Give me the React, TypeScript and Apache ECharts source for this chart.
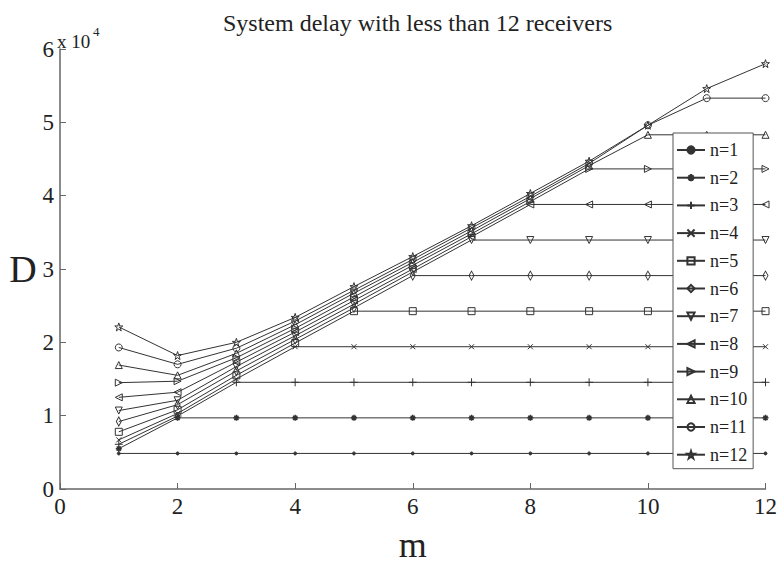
import React, { useEffect, useRef } from 'react';
import * as echarts from 'echarts';

const mValues = [1, 2, 3, 4, 5, 6, 7, 8, 9, 10, 11, 12];
const seriesNames = ['n=1', 'n=2', 'n=3', 'n=4', 'n=5', 'n=6', 'n=7', 'n=8', 'n=9', 'n=10', 'n=11', 'n=12'];
const xTicks = [0, 2, 4, 6, 8, 10, 12];

const n1 = [4850, 4850, 4850, 4850, 4850, 4850, 4850, 4850, 4850, 4850, 4850, 4850];
const n2 = [5500, 9700, 9700, 9700, 9700, 9700, 9700, 9700, 9700, 9700, 9700, 9700];
const n3 = [6100, 9950, 14550, 14550, 14550, 14550, 14550, 14550, 14550, 14550, 14550, 14550];
const n4 = [6700, 10300, 15000, 19400, 19400, 19400, 19400, 19400, 19400, 19400, 19400, 19400];
const n5 = [7800, 10800, 15500, 19900, 24250, 24250, 24250, 24250, 24250, 24250, 24250, 24250];
const n6 = [9200, 11500, 16100, 20400, 24700, 29100, 29100, 29100, 29100, 29100, 29100, 29100];
const n7 = [10700, 12100, 16700, 20900, 25200, 29600, 33950, 33950, 33950, 33950, 33950, 33950];
const n8 = [12500, 13200, 17300, 21400, 25700, 30000, 34400, 38800, 38800, 38800, 38800, 38800];
const n9 = [14500, 14700, 17900, 21900, 26200, 30500, 34800, 39200, 43650, 43650, 43650, 43650];
const n10 = [16900, 15500, 18500, 22400, 26700, 30900, 35200, 39600, 44100, 48300, 48300, 48300];
const n11 = [19300, 17000, 19200, 22900, 27100, 31300, 35600, 39900, 44400, 49600, 53300, 53300];
const n12 = [22100, 18200, 20000, 23400, 27600, 31700, 35900, 40300, 44700, 49600, 54600, 58000];

const allSeries = [n1, n2, n3, n4, n5, n6, n7, n8, n9, n10, n11, n12];

const INK = '#333';
const FONT = '"Liberation Serif", "Times New Roman", serif';

const markerDefs: any[] = [
  { symbol: 'circle', size: 3, filled: true },
  { symbol: 'path://M5,0L5,10M0,5L10,5M1.5,1.5L8.5,8.5M1.5,8.5L8.5,1.5', size: 6, width: 1.5 },
  { symbol: 'path://M5,0L5,10M0,5L10,5', size: 8 },
  { symbol: 'path://M0,0L10,10M0,10L10,0', size: 5 },
  { symbol: 'rect', size: 7 },
  { symbol: 'diamond', size: [5, 9] },
  { symbol: 'triangle', size: 7, rotate: 180 },
  { symbol: 'triangle', size: 7, rotate: 90 },
  { symbol: 'triangle', size: 7, rotate: -90 },
  { symbol: 'triangle', size: 7 },
  { symbol: 'circle', size: 7 },
  { symbol: 'path://M5,0L6.2,3.6L10,3.6L6.9,5.9L8.1,9.5L5,7.3L1.9,9.5L3.1,5.9L0,3.6L3.8,3.6Z', size: 8 },
];

export default function App() {
  const ref = useRef<HTMLDivElement>(null);

  useEffect(() => {
    const chart = echarts.init(ref.current!, null, { renderer: 'svg' });

    const series = allSeries.map((vals, i) => {
      const mk = markerDefs[i];
      return {
        name: seriesNames[i],
        type: 'line',
        data: vals.map((v, j) => [mValues[j], v]),
        symbol: mk.symbol,
        symbolSize: mk.size,
        symbolRotate: mk.rotate || 0,
        showAllSymbol: true,
        lineStyle: { color: INK, width: 1 },
        itemStyle: {
          color: mk.filled ? INK : 'rgba(0,0,0,0)',
          borderColor: INK,
          borderWidth: mk.width || 1,
        },
        emphasis: { disabled: true },
        z: 2,
      };
    });

    const option: any = {
      animation: false,
      backgroundColor: '#fff',
      color: [INK],
      title: {
        text: 'System delay with less than 12 receivers',
        left: 218,
        top: 6,
        textStyle: { fontFamily: FONT, fontSize: 24, fontWeight: 'normal', color: '#222' },
      },
      grid: { left: 60, right: 10, top: 49, bottom: 70, containLabel: false },
      legend: {
        orient: 'vertical',
        left: 673,
        top: 133,
        data: seriesNames,
        backgroundColor: '#fff',
        borderColor: '#555',
        borderWidth: 1,
        borderRadius: 0,
        padding: [8, 6, 5, 3],
        itemWidth: 28,
        itemHeight: 9,
        itemGap: 9.7,
        textStyle: { fontFamily: FONT, fontSize: 18, color: '#222', lineHeight: 18 },
        selectedMode: false,
      },
      xAxis: {
        type: 'value',
        min: xTicks[0],
        max: xTicks[xTicks.length - 1],
        interval: 2,
        name: 'm',
        nameLocation: 'middle',
        nameGap: 38,
        nameTextStyle: { fontFamily: FONT, fontSize: 36, color: '#222' },
        axisLine: { show: true, lineStyle: { color: '#666', width: 1.5 } },
        axisTick: { show: true, inside: true, length: 6, lineStyle: { color: '#666' } },
        axisLabel: { fontFamily: FONT, fontSize: 23, color: '#222', margin: 6 },
        splitLine: { show: false },
      },
      yAxis: {
        type: 'value',
        min: 0,
        max: 60000,
        interval: 10000,
        name: 'D',
        nameLocation: 'middle',
        nameRotate: 0,
        nameGap: 23,
        nameTextStyle: { fontFamily: FONT, fontSize: 38, color: '#222' },
        axisLine: { show: true, lineStyle: { color: '#666', width: 1.5 } },
        axisTick: { show: true, inside: true, length: 6, lineStyle: { color: '#666' } },
        axisLabel: {
          fontFamily: FONT,
          fontSize: 23,
          color: '#222',
          margin: 6,
          formatter: (v: number) => String(v / 10000),
        },
        splitLine: { show: false },
      },
      graphic: [
        {
          type: 'text',
          left: 57,
          top: 32,
          style: { text: 'x 10', fontFamily: FONT, fontSize: 19, fill: '#222' },
        },
        {
          type: 'text',
          left: 93,
          top: 25,
          style: { text: '4', fontFamily: FONT, fontSize: 13, fill: '#222' },
        },
      ],
      series,
    };

    chart.setOption(option);
    return () => chart.dispose();
  }, []);

  return (
    <div
      ref={ref}
      style={{ position: 'fixed', left: 0, top: 0, width: 780, height: 568, background: '#fff' }}
    />
  );
}
